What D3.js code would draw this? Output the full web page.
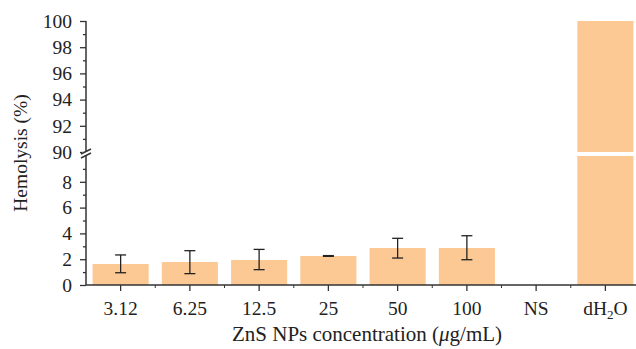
<!DOCTYPE html>
<html><head><meta charset="utf-8">
<script src="https://cdn.jsdelivr.net/npm/d3@7"></script>
<style>body{margin:0;background:#fff}svg{display:block}</style>
</head><body><svg id="c" width="636" height="349"></svg>
<script>
const categories = ["3.12","6.25","12.5","25","50","100","NS","dH2O"];
const values     = [1.63, 1.78, 1.94, 2.25, 2.87, 2.87, 0, 100];
const errLow     = [0.95, 0.88, 1.19, 2.22, 2.09, 1.96, null, null];
const errHigh    = [2.33, 2.66, 2.76, 2.28, 3.62, 3.82, null, null];
const lowerTicks = [0,2,4,6,8];
const upperTicks = [90,92,94,96,98,100];

const svg = d3.select("#c");
const font = "'Liberation Serif', 'DejaVu Serif', serif";
const barColor = "#fcc893";
const axisColor = "#333";

const x = d3.scaleBand().domain(categories).range([86, 640]).paddingInner(0.19).paddingOuter(0.095);
const yLow = d3.scaleLinear().domain([0, 10]).range([285, 156]);
const yUp = d3.scaleLinear().domain([90, 100]).range([152, 21]);

// bars
categories.forEach((c, i) => {
  const v = values[i];
  if (v <= 0) return;
  if (v <= 10) {
    svg.append("rect").attr("x", x(c)).attr("width", x.bandwidth())
      .attr("y", yLow(v)).attr("height", yLow(0) - yLow(v)).attr("fill", barColor);
  } else {
    svg.append("rect").attr("x", x(c)).attr("width", x.bandwidth())
      .attr("y", yLow(10)).attr("height", yLow(0) - yLow(10)).attr("fill", barColor);
    svg.append("rect").attr("x", x(c)).attr("width", x.bandwidth())
      .attr("y", yUp(v)).attr("height", yUp(90) - yUp(v)).attr("fill", barColor);
  }
});

// error bars
categories.forEach((c, i) => {
  if (errLow[i] == null) return;
  const cx = x(c) + x.bandwidth() / 2;
  const g = svg.append("g").attr("stroke", "#222").attr("stroke-width", 1.3);
  g.append("line").attr("x1", cx).attr("x2", cx).attr("y1", yLow(errLow[i])).attr("y2", yLow(errHigh[i]));
  [errLow[i], errHigh[i]].forEach(e => g.append("line").attr("x1", cx - 5.5).attr("x2", cx + 5.5).attr("y1", yLow(e)).attr("y2", yLow(e)));
});

// lower y axis
const axLow = d3.axisLeft(yLow).tickValues(lowerTicks).tickSize(6).tickPadding(8);
const gLow = svg.append("g").attr("transform", "translate(86,0)").call(axLow);
const axLowMinor = d3.axisLeft(yLow).tickValues([1,3,5,7,9]).tickSize(3).tickFormat("");
svg.append("g").attr("transform", "translate(86,0)").call(axLowMinor).select(".domain").remove();
gLow.select(".domain").attr("d", `M0,${yLow(0)}V${yLow(10)}`);

// upper y axis
const axUp = d3.axisLeft(yUp).tickValues(upperTicks).tickSize(6).tickPadding(8);
const gUp = svg.append("g").attr("transform", "translate(86,0)").call(axUp);
const axUpMinor = d3.axisLeft(yUp).tickValues([91,93,95,97,99]).tickSize(3).tickFormat("");
svg.append("g").attr("transform", "translate(86,0)").call(axUpMinor).select(".domain").remove();
gUp.select(".domain").attr("d", `M0,${yUp(90)}V${yUp(100)}`);

// x axis
const xAxis = d3.axisBottom(x).tickSize(6).tickPadding(10);
const gx = svg.append("g").attr("transform", `translate(0,${yLow(0)})`).call(xAxis);
gx.select(".domain").attr("d", `M86,0H636`);
// category boundary minor ticks
const bounds = categories.slice(1).map(c => x(c) - x.step() * x.paddingInner() / 2);
svg.append("g").selectAll("line").data(bounds).join("line")
  .attr("x1", d => d).attr("x2", d => d).attr("y1", yLow(0)).attr("y2", yLow(0) + 3)
  .attr("stroke", axisColor).attr("stroke-width", 1);

svg.selectAll(".domain").attr("stroke", axisColor).attr("stroke-width", 1.5);
svg.selectAll(".tick line").attr("stroke", axisColor).attr("stroke-width", 1.3);
svg.selectAll(".tick text").attr("font-family", font).attr("font-size", 19.5).attr("fill", "#222");

// subscript for dH2O
gx.selectAll(".tick text").filter(d => d === "dH2O").each(function() {
  const t = d3.select(this).text(null);
  t.append("tspan").text("dH");
  t.append("tspan").attr("font-size", 13).attr("dy", 4).text("2");
  t.append("tspan").attr("dy", -4).text("O");
});

// axis break marks
const bk = svg.append("g").attr("stroke", axisColor).attr("stroke-width", 1.4).attr("fill", "none");
bk.append("rect").attr("x", 82).attr("y", yUp(90)).attr("width", 8).attr("height", yLow(10) - yUp(90)).attr("fill", "#fff").attr("stroke", "none");
bk.append("line").attr("x1", 81).attr("y1", yUp(90) + 2).attr("x2", 91).attr("y2", yUp(90) - 3);
bk.append("line").attr("x1", 81).attr("y1", yLow(10) + 2).attr("x2", 91).attr("y2", yLow(10) - 3);

// titles
svg.append("text").attr("transform", "translate(27,153) rotate(-90)")
  .attr("text-anchor", "middle").attr("font-family", font).attr("font-size", 19.5).attr("fill", "#222")
  .text("Hemolysis (%)");
const xl = svg.append("text").attr("x", 367).attr("y", 341).attr("text-anchor", "middle")
  .attr("font-family", font).attr("font-size", 21).attr("fill", "#222");
xl.append("tspan").text("ZnS NPs concentration (");
xl.append("tspan").attr("font-style", "italic").text("μ");
xl.append("tspan").text("g/mL)");
</script></body></html>
